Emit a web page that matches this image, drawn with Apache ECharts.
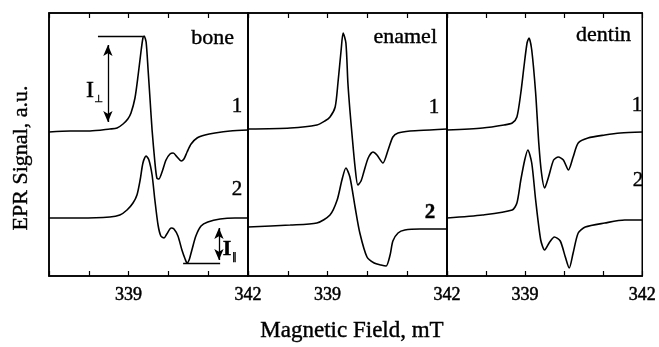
<!DOCTYPE html>
<html>
<head>
<meta charset="utf-8">
<script src="https://cdn.jsdelivr.net/npm/echarts@6/dist/echarts.min.js"></script>
<style>
  html, body { margin: 0; padding: 0; background: #fff; }
  #chart { width: 659px; height: 347px; }
</style>
</head>
<body>
<div id="chart"></div>
<script>
// panels and curve labels
let panels = ['bone', 'enamel', 'dentin'];
let tickLabels = [339, 342];

// field (mT) / signal (a.u.), per sample
let boneField1 = [337.00, 337.53, 338.03, 338.53, 338.71, 338.86, 338.98, 339.06, 339.16, 339.24, 339.31, 339.36, 339.39, 339.44, 339.49, 339.54, 339.59, 339.66, 339.71, 339.76, 339.84, 339.94, 340.04, 340.12, 340.22, 340.32, 340.39, 340.47, 340.57, 340.72, 340.92, 341.17, 341.55, 342.00];
let boneSignal1 = [144, 145, 145, 147, 148, 152, 157, 163, 178, 201, 224, 238, 240, 234, 206, 176, 146, 114, 98, 97, 104, 116, 122, 123, 119, 115, 117, 124, 132, 138, 141, 143, 145, 146];
let boneField2 = [337.00, 337.78, 338.53, 338.78, 338.96, 339.11, 339.21, 339.29, 339.36, 339.44, 339.51, 339.59, 339.66, 339.74, 339.81, 339.89, 339.96, 340.07, 340.14, 340.24, 340.34, 340.42, 340.47, 340.52, 340.59, 340.69, 340.82, 340.99, 341.30, 341.67, 342.00];
let boneSignal2 = [58, 58, 59, 61, 66, 73, 81, 96, 113, 120, 116, 101, 76, 51, 40, 38, 42, 48, 47, 40, 26, 17, 13, 16, 26, 40, 50, 54, 57, 58, 58];

let enamelField1 = [337.00, 338.06, 338.73, 338.93, 339.06, 339.19, 339.26, 339.34, 339.39, 339.46, 339.51, 339.56, 339.61, 339.69, 339.76, 339.84, 339.91, 340.02, 340.14, 340.24, 340.39, 340.52, 340.64, 340.77, 341.07, 341.57, 342.00];
let enamelSignal1 = [147, 148, 151, 155, 159, 169, 193, 226, 243, 233, 193, 166, 143, 109, 91, 95, 104, 118, 124, 121, 113, 126, 139, 143, 145, 146, 147];
let enamelField2 = [337.00, 338.06, 338.73, 339.06, 339.24, 339.36, 339.46, 339.56, 339.69, 339.81, 339.99, 340.17, 340.34, 340.47, 340.57, 340.64, 340.77, 340.94, 341.32, 342.00];
let enamelSignal2 = [49, 51, 53, 61, 76, 96, 108, 99, 69, 43, 19, 13, 11, 10, 21, 35, 43, 46, 47, 47];

let dentinField1 = [337.00, 337.91, 338.46, 338.67, 338.79, 338.89, 338.97, 339.05, 339.10, 339.17, 339.27, 339.35, 339.42, 339.50, 339.60, 339.73, 339.85, 339.98, 340.11, 340.23, 340.36, 340.61, 341.04, 341.44, 342.00];
let dentinSignal1 = [146, 148, 151, 153, 159, 183, 209, 233, 238, 226, 183, 133, 103, 88, 99, 116, 119, 116, 106, 119, 133, 138, 141, 143, 144];
let dentinField2 = [337.00, 337.91, 338.67, 338.79, 338.89, 338.99, 339.07, 339.17, 339.27, 339.40, 339.50, 339.63, 339.75, 339.90, 340.03, 340.13, 340.23, 340.36, 340.54, 341.04, 341.55, 342.00];
let dentinSignal2 = [58, 61, 66, 73, 96, 116, 126, 113, 76, 36, 26, 34, 39, 35, 19, 8, 23, 43, 49, 53, 56, 56];

// intensity markers in the bone panel (mT, a.u.)
let iPerpLine = [[338.23, 240], [339.36, 240]];
let iPerpArrow = [[338.48, 231], [338.48, 154]];
let iParLine = [[340.37, 13], [341.30, 13]];
let iParArrow = [[341.27, 48], [341.27, 16]];

function zip(xs, ys) {
  return xs.map(function (x, i) { return [x, ys[i]]; });
}

let fields = [[boneField1, boneField2], [enamelField1, enamelField2], [dentinField1, dentinField2]];
let signals = [[boneSignal1, boneSignal2], [enamelSignal1, enamelSignal2], [dentinSignal1, dentinSignal2]];

let serif = 'Liberation Serif, Times New Roman, serif';
let gridLeft = [49, 248, 447];
let gridWidth = [199, 199, 198];

let grids = [], xAxes = [], yAxes = [], series = [];
for (let p = 0; p < 3; p++) {
  grids.push({ left: gridLeft[p], width: gridWidth[p], top: 13, bottom: 71,
    show: true, borderColor: '#000', borderWidth: 1.5, backgroundColor: 'transparent' });
  // bottom axis with labels
  xAxes.push({
    gridIndex: p, type: 'value', min: 337, max: 342, interval: 1, position: 'bottom',
    axisLine: { show: true, lineStyle: { color: '#000', width: 1.5 } },
    axisTick: { show: true, inside: true, length: 5, lineStyle: { color: '#000', width: 1.2 } },
    splitLine: { show: false },
    axisLabel: {
      show: true, margin: 10, color: '#000', fontSize: 18, fontFamily: serif,
      textBorderColor: '#000', textBorderWidth: 0.5,
      formatter: function (v) { return tickLabels.indexOf(v) >= 0 ? String(v) : ''; }
    }
  });
  // top axis: mirrored ticks only
  xAxes.push({
    gridIndex: p, type: 'value', min: 337, max: 342, interval: 1, position: 'top',
    axisLine: { show: true, lineStyle: { color: '#000', width: 1.5 } },
    axisTick: { show: true, inside: true, length: 5, lineStyle: { color: '#000', width: 1.2 } },
    splitLine: { show: false }, axisLabel: { show: false }
  });
  yAxes.push({
    gridIndex: p, type: 'value', min: 0, max: 263,
    axisLine: { show: true, lineStyle: { color: '#000', width: 1.5 } },
    axisTick: { show: false }, axisLabel: { show: false }, splitLine: { show: false }
  });
  for (let k = 0; k < 2; k++) {
    series.push({
      type: 'line', xAxisIndex: p * 2, yAxisIndex: p,
      data: zip(fields[p][k], signals[p][k]),
      showSymbol: false, smooth: 0.25, silent: true,
      lineStyle: { color: '#000', width: 1.6 }
    });
  }
}

function seg(pts) {
  return [{ coord: pts[0] }, { coord: pts[1] }];
}

// bone trace 1 carries the reference lines, bone trace 2 the double arrows
series[0].markLine = {
  silent: true, symbol: 'none', label: { show: false }, animation: false,
  lineStyle: { color: '#000', width: 1.3, type: 'solid' },
  data: [seg(iPerpLine), seg(iParLine)]
};
series[1].markLine = {
  silent: true, symbol: ['arrow', 'arrow'], symbolSize: [7, 11], label: { show: false }, animation: false,
  lineStyle: { color: '#000', width: 1.3, type: 'solid' },
  data: [seg(iPerpArrow), seg(iParArrow)]
};

let titleRight = [234, 437, 631];
let titleY = [38, 37, 35];
let oneXY = [[237, 106], [434, 107], [637, 105]];
let twoXY = [[237, 189], [430, 213], [638, 180]];

function txt(x, y, text, font, extra) {
  let style = { text: text, font: font, fill: '#000', align: 'center', verticalAlign: 'middle',
    stroke: '#000', lineWidth: 0.4 };
  for (let k in (extra || {})) style[k] = extra[k];
  return { type: 'text', x: x, y: y, style: style };
}

let graphics = [];
for (let p = 0; p < 3; p++) {
  graphics.push(txt(titleRight[p], titleY[p], panels[p], '22px ' + serif, { align: 'right' }));
  graphics.push(txt(oneXY[p][0], oneXY[p][1], '1', '21px ' + serif));
  graphics.push(txt(twoXY[p][0], twoXY[p][1], '2', (p === 1 ? 'bold ' : '') + '21px ' + serif));
}
graphics.push(txt(90, 91, 'I', '24px ' + serif));
graphics.push(txt(98.5, 99, '⊥', '10px DejaVu Sans'));
graphics.push(txt(227, 249, 'I', 'bold 22px ' + serif));
graphics.push(txt(234.5, 257, '∥', '10px DejaVu Sans'));
// axis titles
let yTitle = txt(21, 158, 'EPR Signal, a.u.', '22px ' + serif);
yTitle.rotation = Math.PI / 2;
graphics.push(yTitle);
graphics.push(txt(352, 331, 'Magnetic Field, mT', '23px ' + serif));

let myChart = echarts.init(document.getElementById('chart'));
let option = {
  animation: false,
  backgroundColor: '#fff',
  grid: grids,
  xAxis: xAxes,
  yAxis: yAxes,
  series: series,
  graphic: graphics
};
myChart.setOption(option);
</script>
</body>
</html>
